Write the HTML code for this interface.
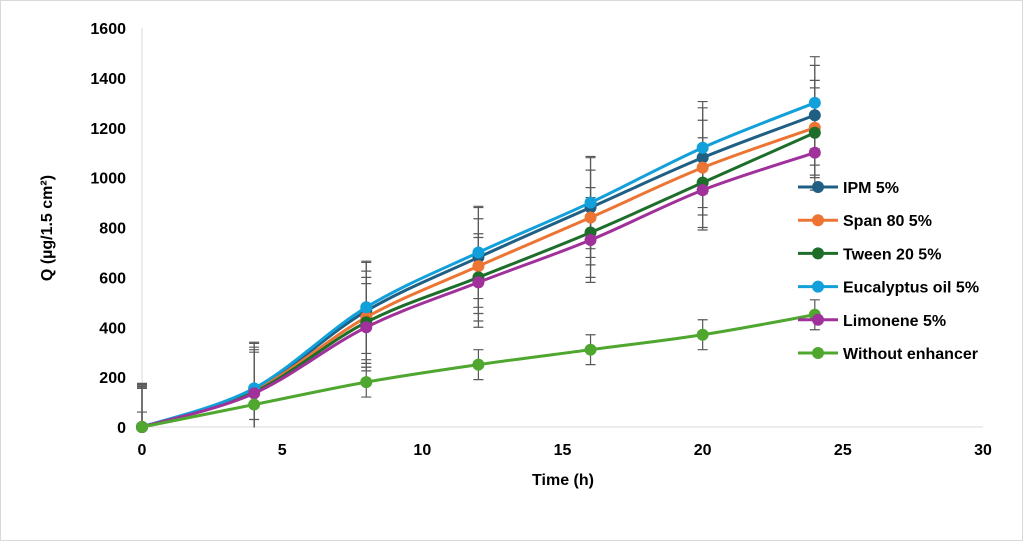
<!DOCTYPE html>
<html><head><meta charset="utf-8"><style>
html,body{margin:0;padding:0;background:#fff;}
svg text{font-family:"Liberation Sans",Arial,sans-serif;font-weight:bold;fill:#000;}
</style></head><body>
<svg id="c" width="1024" height="542">
<defs><clipPath id="plot"><rect x="100" y="20" width="900" height="407.5"/></clipPath></defs>
<rect x="0.5" y="0.5" width="1022" height="540" fill="#fff" stroke="#d9d9d9"/>
<g id="g"></g>
</svg>
<script>
const times=[0,4,8,12,16,20,24];
const seriesNames=["IPM 5%","Span 80 5%","Tween 20 5%","Eucalyptus oil 5%","Limonene 5%","Without enhancer"];
const ipm=[0,150,465,680,880,1080,1250];
const span=[0,145,440,645,840,1040,1200];
const tween=[0,140,420,600,780,980,1180];
const euc=[0,155,480,700,900,1120,1300];
const lim=[0,135,400,580,750,950,1100];
const without=[0,90,180,250,310,370,450];
const errIpm=[170,185,195,200,200,200,200];
const errSpan=[165,175,185,190,190,190,190];
const errTween=[160,170,180,175,180,180,180];
const errEuc=[175,185,185,185,185,185,185];
const errLim=[155,165,175,180,170,160,150];
const errWithout=[60,60,60,60,60,60,60];
const yTicks=[0,200,400,600,800,1000,1200,1400,1600];
const xTicks=[0,5,10,15,20,25,30];
const colors=["#1f5f84","#ed7533","#1e6e2b","#11a0d9","#a0309a","#4fa72f"];
const NS="http://www.w3.org/2000/svg";
const g=document.getElementById('g');
const X=v=>142+v*(983-142)/30, Y=v=>427-v*(427-28)/1600;
function el(t,a,p){const e=document.createElementNS(NS,t);for(const k in a)e.setAttribute(k,a[k]);(p||g).appendChild(e);return e;}
el('line',{x1:142,y1:28,x2:142,y2:427,stroke:'#d9d9d9'});
el('line',{x1:142,y1:427,x2:983,y2:427,stroke:'#d9d9d9'});
yTicks.forEach(v=>{const t=el('text',{x:126,y:Y(v)+6,'text-anchor':'end','font-size':16});t.textContent=v;

});
xTicks.forEach(v=>{const t=el('text',{x:X(v),y:455,'text-anchor':'middle','font-size':16});t.textContent=v;

});
const xt=el('text',{x:563,y:485,'text-anchor':'middle','font-size':16});xt.textContent='Time (h)';


const yt=el('text',{x:0,y:0,'text-anchor':'middle','font-size':16,transform:'translate(52,228) rotate(-90)'});yt.textContent='Q (µg/1.5 cm²)';


const data=[ipm,span,tween,euc,lim,without];
const errs=[errIpm,errSpan,errTween,errEuc,errLim,errWithout];
const eg=el('g',{'clip-path':'url(#plot)'});
data.forEach((s,i)=>{const er=errs[i];s.forEach((v,j)=>{const x=X(times[j]);
const l=el('path',{d:`M${x},${Y(v-er[j])}V${Y(v+er[j])}M${x-5},${Y(v-er[j])}h10M${x-5},${Y(v+er[j])}h10`,stroke:'#595959','stroke-width':1.2,fill:'none'},eg);

});});
function smooth(pts){let d=`M${pts[0][0]},${pts[0][1]}`;for(let i=0;i<pts.length-1;i++){const p0=pts[i-1]||pts[i],p1=pts[i],p2=pts[i+1],p3=pts[i+2]||p2;const t=0.5/3;
d+=` C${p1[0]+(p2[0]-p0[0])*t},${p1[1]+(p2[1]-p0[1])*t} ${p2[0]-(p3[0]-p1[0])*t},${p2[1]-(p3[1]-p1[1])*t} ${p2[0]},${p2[1]}`;}return d;}
data.forEach((s,i)=>{const pts=s.map((v,j)=>[X(times[j]),Y(v)]);
const p=el('path',{d:smooth(pts),stroke:colors[i],'stroke-width':3,fill:'none'});


pts.forEach(q=>{const c=el('circle',{cx:q[0],cy:q[1],r:6,fill:colors[i]});

});});
seriesNames.forEach((n,i)=>{const y=187+i*33.2;
const l=el('line',{x1:798,y1:y,x2:838,y2:y,stroke:colors[i],'stroke-width':3});


const c=el('circle',{cx:818,cy:y,r:6,fill:colors[i]});


const t=el('text',{x:843,y:y+6,'font-size':16});t.textContent=n;

});
</script>
</body></html>
